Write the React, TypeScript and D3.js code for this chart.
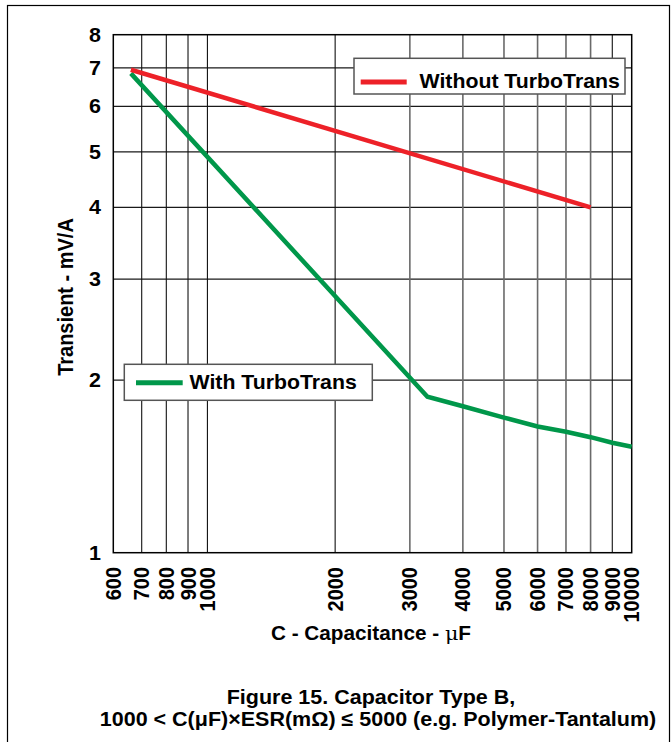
import React from "react";
import * as d3 from "d3";

const xTicks = [600, 700, 800, 900, 1000, 2000, 3000, 4000, 5000, 6000, 7000, 8000, 9000, 10000];
const xGridBlack = [700, 800, 900, 1000, 2000, 9000];
const xGridGray = [3000, 4000, 5000, 6000, 7000, 8000];
const yTicks = [1, 2, 3, 4, 5, 6, 7, 8];
const yGrid = [2, 3, 4, 5, 6, 7];

const withoutC = [660, 8000];
const withoutV = [6.95, 4.0];
const withC = [660, 3300, 4000, 5000, 6000, 7000, 8000, 9000, 10000];
const withV = [6.85, 1.87, 1.8, 1.72, 1.66, 1.625, 1.59, 1.555, 1.53];

const RED = "#ed2128";
const GREEN = "#00974a";
const FONT = "'Liberation Sans', Arial, Helvetica, sans-serif";
const SX = 1.075;

function T({ x, y, rot, anchor, size, children }: any) {
  return (
    <text
      transform={`translate(${x},${y}) scale(${SX},1)${rot ? " rotate(-90)" : ""}`}
      textAnchor={anchor || "start"}
      fontSize={size}
    >
      {children}
    </text>
  );
}

export default function App() {
  const W = 671;
  const H = 742;
  const left = 113.3, right = 631.7, top = 34.7, bottom = 552.7;
  const x = d3.scaleLog().domain([600, 10000]).range([left, right]);
  const y = d3.scaleLog().domain([1, 8]).range([bottom, top]);
  const line = d3
    .line<[number, number]>()
    .x((d) => x(d[0]))
    .y((d) => y(d[1]));
  const redPts: [number, number][] = withoutC.map((c, i) => [c, withoutV[i]]);
  const greenPts: [number, number][] = withC.map((c, i) => [c, withV[i]]);

  return (
    <svg
      width={W}
      height={H}
      style={{ position: "absolute", left: 0, top: 0, background: "#fff" }}
      fontFamily={FONT}
      fontWeight="bold"
    >
      <rect x={0} y={0} width={W} height={H} fill="#fff" />
      <rect x={7.5} y={5.5} width={662} height={800} fill="none" stroke="#000" strokeWidth={1.2} />

      {/* grid */}
      {yGrid.map((v) => (
        <line key={"hy" + v} x1={left} x2={right} y1={y(v)} y2={y(v)} stroke="#1a1a1a" strokeWidth={1.2} />
      ))}
      {xGridBlack.map((v) => (
        <line key={"vb" + v} x1={x(v)} x2={x(v)} y1={top} y2={bottom} stroke="#111" strokeWidth={1.1} />
      ))}
      {xGridGray.map((v) => (
        <line key={"vg" + v} x1={x(v)} x2={x(v)} y1={top} y2={bottom} stroke="#6a6a6a" strokeWidth={1.6} />
      ))}
      <rect x={left} y={top} width={right - left} height={bottom - top} fill="none" stroke="#000" strokeWidth={1.5} />

      {/* series */}
      <path d={line(greenPts) || ""} fill="none" stroke={GREEN} strokeWidth={4.5} strokeLinejoin="miter" />
      <path d={line(redPts) || ""} fill="none" stroke={RED} strokeWidth={4.5} />

      {/* y ticks */}
      {yTicks.map((v) => (
        <T key={"yt" + v} x={101} y={y(v) + 7} anchor="end" size={20}>
          {v}
        </T>
      ))}
      {/* x ticks */}
      {xTicks.map((v) => (
        <T key={"xt" + v} x={x(v) + 7.5} y={567} rot anchor="end" size={20}>
          {v}
        </T>
      ))}

      {/* axis titles */}
      <T x={73} y={297} rot anchor="middle" size={20}>
        Transient - mV/A
      </T>
      <T x={371} y={640} anchor="middle" size={19.3}>
        C - Capacitance - <tspan fontFamily="'DejaVu Serif', 'Liberation Serif', serif" fontWeight="normal">μ</tspan>F
      </T>

      {/* legends */}
      <rect x={354} y={58.3} width={271} height={35.7} fill="#fff" stroke="#555" strokeWidth={1.5} />
      <line x1={360.7} x2={406.7} y1={82} y2={82} stroke={RED} strokeWidth={5} />
      <T x={419.5} y={87.5} size={19.8}>
        Without TurboTrans
      </T>

      <rect x={124.3} y={364.3} width={248} height={36} fill="#fff" stroke="#555" strokeWidth={1.5} />
      <line x1={136} x2={182.7} y1={382.7} y2={382.7} stroke={GREEN} strokeWidth={5} />
      <T x={189.5} y={389.3} size={19.8}>
        With TurboTrans
      </T>

      {/* caption */}
      <T x={371} y={704} anchor="middle" size={20}>
        Figure 15. Capacitor Type B,
      </T>
      <T x={378} y={726} anchor="middle" size={20}>
        1000 &lt; C(μF)×ESR(mΩ) ≤ 5000 (e.g. Polymer-Tantalum)
      </T>
    </svg>
  );
}
